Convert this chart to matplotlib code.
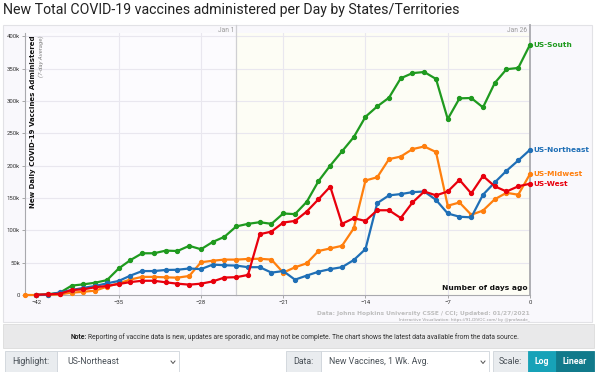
import matplotlib.pyplot as plt
from matplotlib.lines import Line2D
from matplotlib.patches import Rectangle
import numpy as np

W, H = 600, 372


def fx(x):
    return x / W


def fy(y):
    return 1 - y / H


nan = np.nan
days = list(range(-43, 1))

south = [nan, 0, 1000, 3600, 14500, 16500, 19000, 23000, 41000, 54000,
         64500, 64500, 68600, 68000, 76000, 70700, 82000, 90000, 106000, 110000,
         112500, 110000, 126000, 125000, 144000, 176000, 200000, 222000, 244000, 275500,
         291500, 305000, 335000, 343000, 344700, 334000, 272000, 304000, 304500, 290000,
         327700, 349000, 351000, 387000]
northeast = [nan, 0, 500, 4000, 7700, 11000, 14000, 18000, 21700, 30000,
             37000, 37000, 38700, 39000, 41000, 40000, 47000, 46000, 45500, 43000,
             43000, 34600, 37000, 23700, 30000, 36000, 40000, 43000, 54000, 71000,
             142000, 154000, 156000, 159000, 160000, 147000, 126000, 121000, 120000, 155000,
             174000, 192000, 208000, 224500]
midwest = [0, 0, 300, 1000, 3600, 5000, 6700, 13000, 18000, 24000,
           28000, 28000, 27300, 26800, 29400, 50600, 53000, 54700, 54700, 55700,
           56000, 54700, 34600, 42800, 49000, 68000, 72000, 76000, 103000, 177000,
           182000, 210000, 214000, 225500, 229600, 221000, 138000, 143000, 124000, 130500,
           148000, 158000, 155000, 187000]
west = [nan, 500, 1000, 2000, 7700, 8800, 12000, 14000, 17000, 20000,
        22000, 22000, 19600, 17500, 16000, 17500, 21000, 27000, 27500, 31000,
        94000, 98000, 112000, 114500, 129000, 148000, 167500, 110000, 118700, 114500,
        131000, 131000, 119000, 143000, 160000, 154000, 160000, 178000, 157000, 184000,
        168000, 160000, 168000, 172000]

series = [
    ("US-South", south, "#1f9a1f"),
    ("US-Midwest", midwest, "#ff7f0e"),
    ("US-Northeast", northeast, "#1f6fb6"),
    ("US-West", west, "#e8000d"),
]

x_ticks = [-42, -35, -28, -21, -14, -7, 0]
y_ticks = [0, 50000, 100000, 150000, 200000, 250000, 300000, 350000, 400000]
y_labels = ["0", "50k", "100k", "150k", "200k", "250k", "300k", "350k", "400k"]

plt.rcParams["font.family"] = ["Roboto", "DejaVu Sans"]

fig = plt.figure(figsize=(6, 3.72), dpi=100)
fig.patch.set_facecolor("white")


def rect(x0, x1, y0, y1, face, edge, lw=0.6):
    fig.patches.append(Rectangle((fx(x0), fy(y1)), fx(x1) - fx(x0), fy(y0) - fy(y1),
                                 transform=fig.transFigure, facecolor=face,
                                 edgecolor=edge, lw=lw, zorder=-5))


# chart panel
rect(3, 592, 25, 322, "#f9f8fc", "#e2e2e6", 0.8)

fig.text(fx(3), fy(10), "New Total COVID-19 vaccines administered per Day by States/Territories",
         fontsize=10.2, ha="left", va="center", color="#222222")

ax = fig.add_axes([fx(24.7), fy(295), (530 - 24.7) / W, (295 - 33) / H])
ax.set_zorder(2)
ax.set_xlim(-43, 0)
ax.set_ylim(0, 405000)
ax.set_facecolor("#fcfbfe")
ax.axvspan(-25, 0, color="#fdfdf5", zorder=0)

for yt in y_ticks[1:]:
    ax.axhline(yt, color="#e9e7ef", lw=0.8, zorder=1)
for xt in x_ticks[1:-1]:
    ax.axvline(xt, color="#e9e7ef", lw=0.8, zorder=1)

ax.axvline(-25, ymin=0, ymax=1.03, color="#cfcfd3", lw=0.9, zorder=1, clip_on=False)
ax.axvline(0, ymin=0, ymax=1.03, color="#a9a9ae", lw=1.3, zorder=1, clip_on=False)
fig.text(fx(234), fy(30), "Jan 1", fontsize=4.8, color="#9a9a9a", ha="right", va="center")
fig.text(fx(527), fy(30), "Jan 26", fontsize=4.8, color="#9a9a9a", ha="right", va="center")

for name, values, color in series:
    ax.plot(days, values, color=color, lw=1.6, marker="o", ms=2.8, zorder=3, clip_on=False)
    last = values[-1]
    ax.annotate(name, xy=(0, last), xytext=(2.5, 0), textcoords="offset points",
                ha="left", va="center", color=color, fontsize=5.3, fontweight="bold",
                family="DejaVu Sans", annotation_clip=False)

ax.set_xticks(x_ticks)
ax.set_yticks(y_ticks)
ax.set_yticklabels(y_labels)
ax.tick_params(labelsize=4.3, length=2, width=0.6, color="#999999", labelcolor="#333333", pad=1.5)
for side in ("top", "right"):
    ax.spines[side].set_visible(False)
for side in ("left", "bottom"):
    ax.spines[side].set_color("#a9a9ae")
    ax.spines[side].set_linewidth(0.8)

fig.text(fx(33), fy(35), "New Daily COVID-19 Vaccines Administered", rotation=90,
         fontsize=5.0, fontweight="bold", family="DejaVu Sans", ha="center", va="top",
         color="#111111", zorder=5)
fig.text(fx(41.5), fy(35), "(7-day Average)", rotation=90, fontsize=4.4,
         color="#888888", ha="center", va="top", style="italic", zorder=5)

fig.text(fx(528), fy(288), "Number of days ago", fontsize=5.4, fontweight="bold",
         family="DejaVu Sans", ha="right", va="center", color="#111111", zorder=5)
fig.text(fx(530), fy(313), "Data: Johns Hopkins University CSSE / CCI; Updated: 01/27/2021",
         fontsize=4.2, fontweight="bold", family="DejaVu Sans", ha="right", va="center", color="#bdbdbd")
fig.text(fx(530), fy(320), "Interactive Visualization: https://91-DIVOC.com/ by @profwade_",
         fontsize=3.0, family="DejaVu Sans", ha="right", va="center", color="#9a9a9a")

# note bar
rect(3, 594, 324, 348, "#e9e9ea", "#dcdcdc")
fig.text(fx(86.5), fy(337), "Note:", fontsize=4.9, fontweight="bold", ha="right", va="center", color="#222222")
fig.text(fx(88.5), fy(337),
         "Reporting of vaccine data is new, updates are sporadic, and may not be complete. "
         "The chart shows the latest data available from the data source.",
         fontsize=4.9, ha="left", va="center", color="#333333")


# controls row
def box(x0, x1, face, edge="#ced4da"):
    rect(x0, x1, 351, 373, face, edge)


def chevron(xc):
    fig.lines.append(Line2D([fx(xc - 2), fx(xc), fx(xc + 2)], [fy(361), fy(363.5), fy(361)],
                            transform=fig.transFigure, color="#555555", lw=0.7))


box(5, 57, "#e9ecef")
box(57, 179, "white")
fig.text(fx(31), fy(362), "Highlight:", fontsize=6.3, ha="center", va="center", color="#495057")
fig.text(fx(67), fy(362), "US-Northeast", fontsize=6.3, ha="left", va="center", color="#495057")
chevron(173)

box(286, 321, "#e9ecef")
box(321, 489, "white")
fig.text(fx(303.5), fy(362), "Data:", fontsize=6.3, ha="center", va="center", color="#495057")
fig.text(fx(329), fy(362), "New Vaccines, 1 Wk. Avg.", fontsize=6.3, ha="left", va="center", color="#495057")
chevron(483)

box(493, 528, "#e9ecef")
box(528, 556, "#17a2b8", "#17a2b8")
box(556, 594, "#117a8b", "#117a8b")
fig.text(fx(510.5), fy(362), "Scale:", fontsize=6.3, ha="center", va="center", color="#495057")
fig.text(fx(542), fy(362), "Log", fontsize=6.3, fontweight="bold", ha="center", va="center", color="white")
fig.text(fx(575), fy(362), "Linear", fontsize=6.3, fontweight="bold", ha="center", va="center", color="white")

fig.savefig("out.png", dpi=100)
